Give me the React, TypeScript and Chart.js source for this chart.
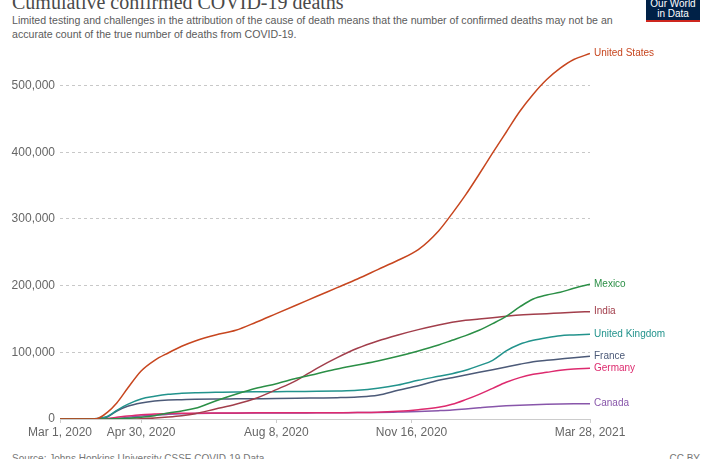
import { Chart, registerables } from "chart.js";
import { useEffect, useRef } from "react";
Chart.register(...registerables);

// days since Mar 1, 2020
const days = [0, 20, 27, 35, 42, 50, 60, 70, 80, 90, 100, 115, 130, 145, 160, 175, 190, 205, 220, 235, 250, 265, 280, 290, 300, 310, 320, 330, 340, 350, 360, 370, 380, 392];

// cumulative deaths, thousands
const unitedStates = [0, 0, 0.5, 10, 24, 46, 72, 88, 99, 109, 117, 126, 133, 145, 158, 171, 184, 197, 210, 224, 238, 254, 282, 308, 336, 367, 399, 430, 461, 487, 509, 526, 539, 548];
const mexico = [0, 0, 0, 0, 0.5, 1, 2.5, 5, 9, 12, 16, 27, 37, 46, 53, 61, 68, 75, 81, 87, 94, 102, 111, 118, 125, 133, 143, 154, 168, 180, 186, 190, 196, 202];
const india = [0, 0, 0, 0, 0, 0, 0.5, 1.5, 3, 5, 8, 15, 22, 31, 44, 58, 76, 92, 106, 117, 126, 134, 141, 145, 148, 150, 152, 154, 156, 157, 158, 159, 160, 161];
const unitedKingdom = [0, 0, 0.8, 4, 13, 22, 30, 34, 37, 38.5, 39.5, 40, 40.5, 40.8, 41, 41.3, 41.5, 42, 43, 46, 51, 58, 64, 68, 73, 80, 88, 102, 112, 118, 122, 125, 126, 127];
const france = [0, 0, 0.5, 3, 12, 19, 24, 27, 28.5, 29, 29.5, 30, 30.2, 30.4, 30.6, 31, 31.5, 32, 33, 35.5, 43, 50, 58, 62, 66, 70, 74, 78, 82, 86, 88, 90, 92, 94];
const germany = [0, 0, 0.1, 0.8, 2.5, 4.5, 6.5, 7.5, 8.3, 8.6, 8.8, 9, 9.1, 9.2, 9.2, 9.3, 9.4, 9.5, 9.6, 10, 11.5, 14, 17.5, 22, 29, 37, 46, 55, 62, 67, 70, 73, 75, 76];
const canada = [0, 0, 0.05, 0.3, 1, 2.5, 4.5, 6, 7, 7.8, 8.4, 8.7, 8.8, 8.9, 9, 9.1, 9.2, 9.3, 9.6, 9.8, 10.5, 11.3, 12.5, 13.5, 15, 16.8, 18.5, 19.8, 20.8, 21.5, 22, 22.4, 22.7, 22.9];

const countries = ["United States", "Mexico", "India", "United Kingdom", "France", "Germany", "Canada"];
const colors = ["#C7461F", "#2B8F46", "#A23E4B", "#22938C", "#4C5A78", "#DD2A6E", "#8856AA"];
const seriesValues = [unitedStates, mexico, india, unitedKingdom, france, germany, canada];

const xTickDays = [0, 60, 160, 260, 392];
const xTickLabels = ["Mar 1, 2020", "Apr 30, 2020", "Aug 8, 2020", "Nov 16, 2020", "Mar 28, 2021"];
const yTickValues = [0, 100000, 200000, 300000, 400000, 500000];

const sans = "'Liberation Sans', Arial, sans-serif";

const endLabels = {
  id: "endLabels",
  afterDatasetsDraw(chart: Chart) {
    const ctx = chart.ctx;
    const right = chart.chartArea.right;
    ctx.save();
    ctx.font = `10px ${sans}`;
    ctx.textBaseline = "middle";
    chart.data.datasets.forEach((ds, i) => {
      const meta = chart.getDatasetMeta(i);
      const last = meta.data[meta.data.length - 1];
      if (!last) return;
      ctx.fillStyle = ds.borderColor as string;
      ctx.fillText(ds.label as string, right + 4, last.y);
    });
    ctx.restore();
  },
};

const DeathsChart = () => {
  const ref = useRef<null | HTMLCanvasElement>(null);
  useEffect(() => {
    if (!ref.current) return;
    const ctx = ref.current.getContext("2d");
    if (!ctx) throw new Error("Canvas Error: Ctx not available");
    const chart = new Chart(ctx, {
      type: "line",
      data: {
        datasets: countries.map((name, i) => ({
          label: name,
          data: days.map((d, j) => ({ x: d, y: seriesValues[i][j] * 1000 })),
          borderColor: colors[i],
          backgroundColor: colors[i],
          borderWidth: 1.5,
          pointRadius: 0,
          cubicInterpolationMode: "monotone" as const,
        })),
      },
      options: {
        animation: false,
        responsive: true,
        maintainAspectRatio: false,
        layout: { padding: { top: 12, right: 112, left: 0, bottom: 0 } },
        plugins: { legend: { display: false }, tooltip: { enabled: false } },
        scales: {
          x: {
            type: "linear",
            min: 0,
            max: 392,
            afterBuildTicks: (axis) => {
              axis.ticks = xTickDays.map((v) => ({ value: v }));
            },
            afterFit: (axis) => {
              axis.height = 31;
            },
            grid: { drawOnChartArea: false, drawTicks: true, tickLength: 4, color: "#cccccc" },
            border: { display: true, color: "#cccccc" },
            ticks: {
              autoSkip: false,
              maxRotation: 0,
              padding: 2,
              color: "#666666",
              font: { family: sans, size: 12 },
              callback: (value) => xTickLabels[xTickDays.indexOf(Number(value))] ?? "",
            },
          },
          y: {
            type: "linear",
            min: 0,
            max: 550000,
            afterBuildTicks: (axis) => {
              axis.ticks = yTickValues.map((v) => ({ value: v }));
            },
            afterFit: (axis) => {
              axis.width = 60;
            },
            grid: { drawTicks: false, color: "#c8c8c8" },
            border: { display: false, dash: [3, 3] },
            ticks: {
              autoSkip: false,
              padding: 5,
              color: "#666666",
              font: { family: sans, size: 12 },
              callback: (value) => Number(value).toLocaleString("en-US"),
            },
          },
        },
      },
      plugins: [endLabels],
    });
    return () => chart.destroy();
  }, []);

  return <canvas ref={ref}></canvas>;
};

const App = () => {
  return (
    <div style={{ position: "fixed", left: 0, top: 0, width: 702, height: 459, background: "#fff", overflow: "hidden" }}>
      <div style={{ position: "absolute", left: 12, top: -9, fontFamily: "'Liberation Serif', serif", fontSize: 20, color: "#4a4a4a", whiteSpace: "nowrap" }}>
        Cumulative confirmed COVID-19 deaths
      </div>
      <div style={{ position: "absolute", left: 12, top: 13, fontFamily: sans, fontSize: 10.6, lineHeight: "14px", color: "#5b5b5b", whiteSpace: "nowrap" }}>
        Limited testing and challenges in the attribution of the cause of death means that the number of confirmed deaths may not be an
        <br />
        accurate count of the true number of deaths from COVID-19.
      </div>
      <div style={{ position: "absolute", left: 646, top: 0, width: 54, height: 20, background: "#002147", borderBottom: "2px solid #ce261e", color: "#fff", fontFamily: sans, fontSize: 10, lineHeight: "10px", textAlign: "center" }}>
        <div style={{ marginTop: -1 }}>Our World</div>
        <div>in Data</div>
      </div>
      <div style={{ position: "absolute", left: 0, top: 40, width: 702, height: 410 }}>
        <DeathsChart />
      </div>
      <div style={{ position: "absolute", left: 12, top: 453, fontFamily: sans, fontSize: 10, color: "#777", whiteSpace: "nowrap" }}>
        Source: Johns Hopkins University CSSE COVID-19 Data
      </div>
      <div style={{ position: "absolute", right: 2, top: 453, fontFamily: sans, fontSize: 10, color: "#777" }}>CC BY</div>
    </div>
  );
};

export default App;
